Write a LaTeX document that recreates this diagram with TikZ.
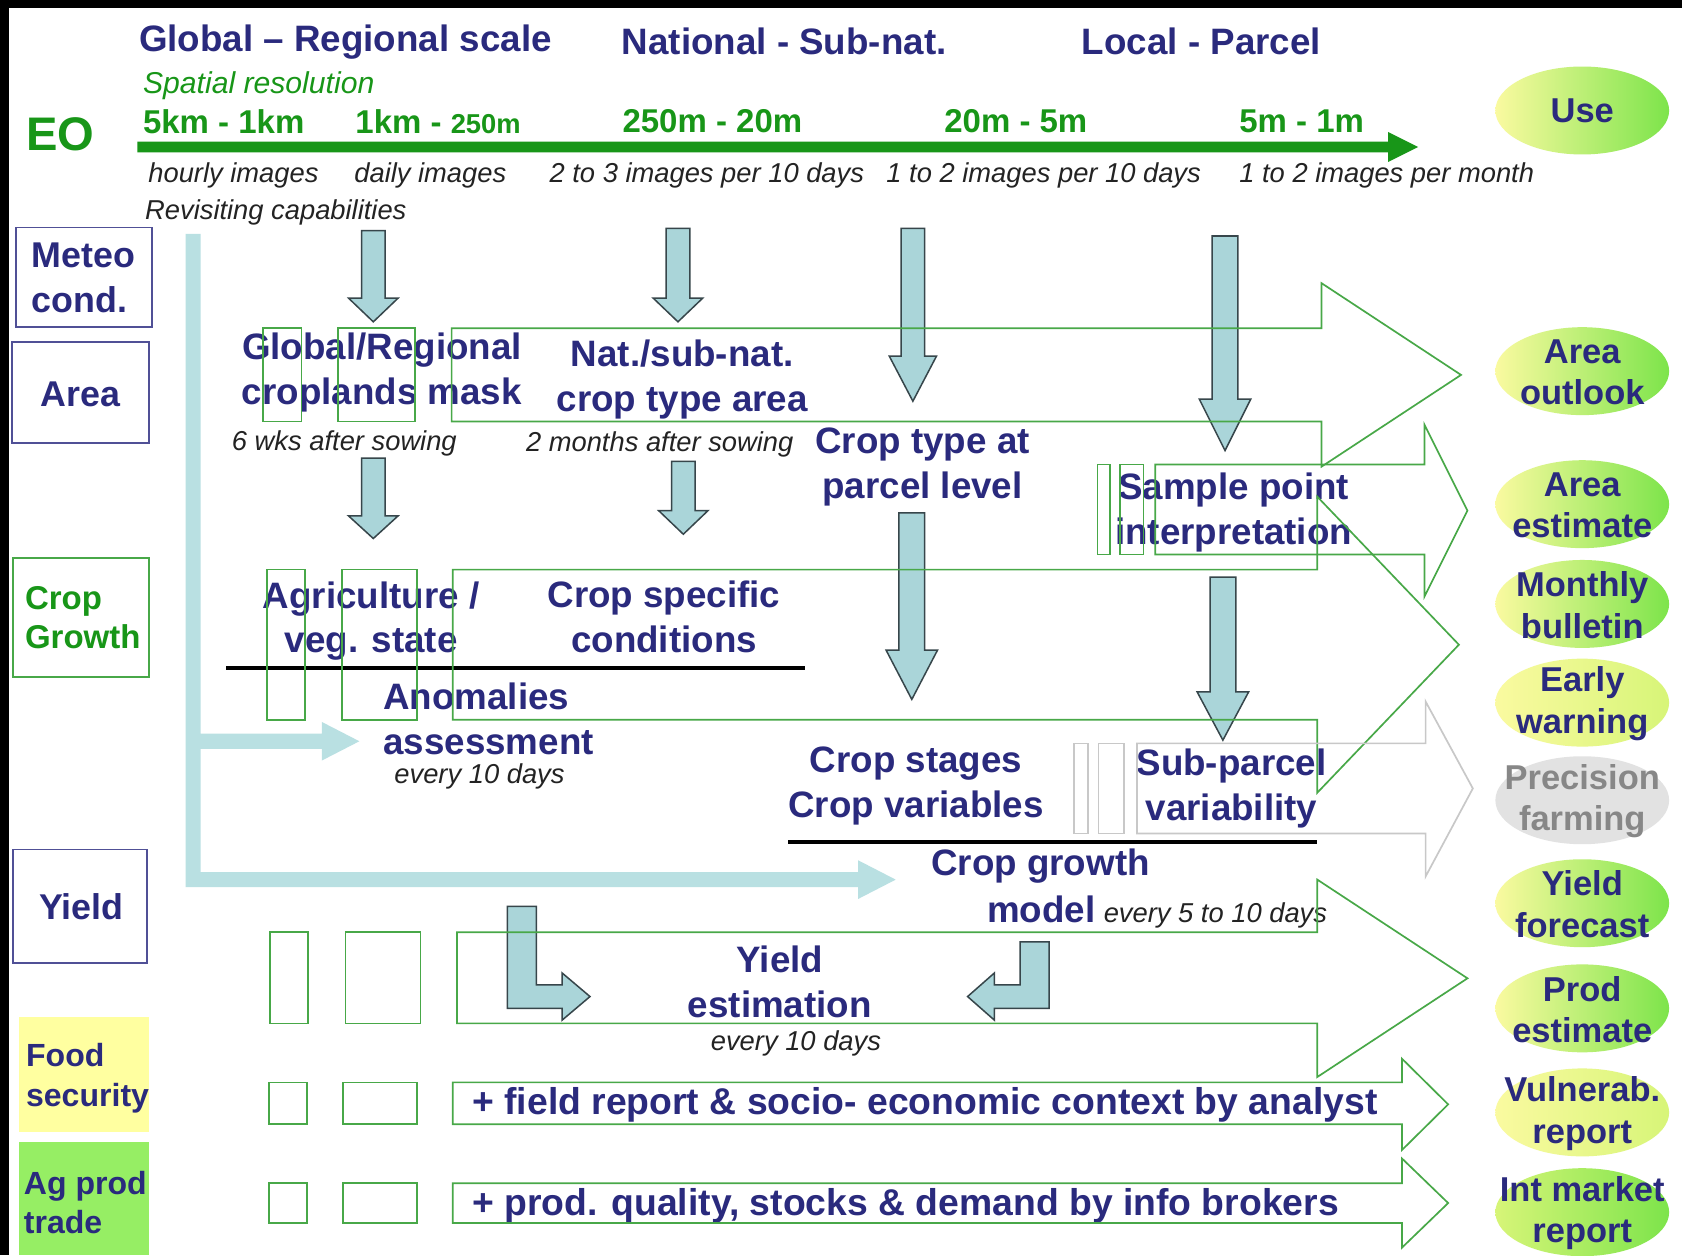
\documentclass[tikz,border=0pt]{standalone}
\usepackage{fontspec}
\setmainfont{Liberation Sans}
\usetikzlibrary{positioning}

\definecolor{navytxt}{RGB}{42,42,125}
\definecolor{eogreen}{RGB}{24,150,24}
\definecolor{boxgreen}{RGB}{72,168,72}
\definecolor{boxnavy}{RGB}{80,80,150}
\definecolor{blfill}{RGB}{170,213,217}
\definecolor{bldraw}{RGB}{55,70,75}
\definecolor{palebl}{RGB}{185,224,226}
\definecolor{foodyel}{RGB}{255,255,160}
\definecolor{agrn}{RGB}{150,238,100}
\definecolor{ellyel}{RGB}{250,250,160}
\definecolor{ellgrn}{RGB}{125,228,75}
\definecolor{ellyg}{RGB}{215,245,120}
\definecolor{greyfill}{RGB}{226,226,226}
\definecolor{greytxt}{RGB}{135,135,135}
\definecolor{greyline}{RGB}{200,200,200}
\definecolor{notetxt}{RGB}{35,35,35}

\begin{document}
\begin{tikzpicture}[x=0.02cm, y=-0.02cm,
    % text styles
    lbl/.style={font=\fontsize{19.5}{23.8}\selectfont\bfseries, text=navytxt, align=center, inner sep=0pt},
    side/.style={font=\fontsize{19}{23.5}\selectfont\bfseries, text=navytxt, align=left, inner sep=0pt},
    uselbl/.style={font=\fontsize{18.3}{22}\selectfont\bfseries, text=navytxt, align=center, inner sep=0pt},
    note/.style={font=\fontsize{14.5}{17}\selectfont\itshape, text=notetxt, inner sep=0pt},
    res/.style={font=\fontsize{17.5}{20}\selectfont\bfseries, text=eogreen, inner sep=0pt, anchor=west},
    % shapes
    downarrow/.style={fill=blfill, draw=bldraw, line width=0.8pt, line join=miter},
    greenarrow/.style={draw=boxgreen, line width=0.9pt},
    greyarrow/.style={draw=greyline, line width=0.9pt},
    navybox/.style={draw=boxnavy, line width=0.9pt},
    underline/.style={line width=2.3pt, black}
]
\useasboundingbox (0,0) rectangle (1568,1170);
\fill[white] (0,0) rectangle (1568,1170);
\fill[black] (0,0) rectangle (1568,7);
\fill[black] (0,0) rectangle (8,1170);

% 1. EO scale bar and resolutions
\node[lbl] (hglob) at (322,39) {Global – Regional scale};
\node[lbl] (hnat) at (731,39) {National - Sub-nat.};
\node[lbl] (hloc) at (1120,39) {Local - Parcel};
\node[lbl, text=eogreen, font=\fontsize{25}{30}\selectfont\bfseries] (eo) at (56,125) {EO};
\node[note, font=\fontsize{16}{19}\selectfont\itshape, text=eogreen, anchor=west] (spat) at (133,80) {Spatial resolution};
\node[res] (r1) at (133,113) {5km - 1km};
\node[res] (r2) at (331,113) {1km - {\fontsize{14.5}{17}\selectfont 250m}};
\node[res] (r3) at (580,113) {250m - 20m};
\node[res] (r4) at (880,113) {20m - 5m};
\node[res] (r5) at (1155,113) {5m - 1m};
\fill[eogreen] (128,132) -- (1294,132) -- (1294,123) -- (1322,137) -- (1294,151) -- (1294,142) -- (128,142) -- cycle;
\node[note, anchor=west] (v1) at (138,164) {hourly images};
\node[note, anchor=west] (v2) at (330,164) {daily images};
\node[note, anchor=west] (v3) at (512,164) {2 to 3 images per 10 days};
\node[note, anchor=west] (v4) at (826,164) {1 to 2 images per 10 days};
\node[note, anchor=west] (v5) at (1155,164) {1 to 2 images per month};
\node[note, anchor=west] (revis) at (135,198) {Revisiting capabilities};

% 2. Left column of themes
\draw[navybox] (15,212) rectangle (142,305);
\node[side, anchor=west] (meteo) at (29,259) {Meteo\\cond.};
\draw[navybox] (11,319) rectangle (139,413);
\node[side] (area) at (75,368) {Area};
\draw[navybox, draw=boxgreen] (12,520) rectangle (139,631);
\node[side, text=eogreen, font=\fontsize{17.5}{20.5}\selectfont\bfseries, anchor=west] (growth) at (23,576) {Crop\\Growth};
\draw[navybox] (12,792) rectangle (137,898);
\node[side] (yield) at (76,845) {Yield};
\fill[foodyel] (18,948) rectangle (139,1055);
\node[side, font=\fontsize{17}{21}\selectfont\bfseries, anchor=west] (food) at (24,1005) {Food\\security};
\fill[agrn] (18,1065) rectangle (139,1170);
\node[side, font=\fontsize{17}{21}\selectfont\bfseries, anchor=west] (agprod) at (22,1121) {Ag prod\\trade};

% 3. Pale meteo flow
\fill[palebl] (173,218) -- (187,218) -- (187,684) -- (300,684) -- (300,673) -- (335,691) -- (300,709)
    -- (300,698) -- (187,698) -- (187,813) -- (800,813) -- (800,802) -- (835,820) -- (800,838)
    -- (800,827) -- (173,827) -- cycle;

% 4. EO inputs (down arrows)
\foreach \xc/\yt/\yb/\sw/\hw/\hl in {348/215/300/11/23/22, 632/213/300/11/23/22, 851/213/374/11/22/42,
    1142/220/420/12/24/48, 348/427/502/11/23/21, 637/430/498/11/23/22, 850/478/652/12/24/46, 1140/538/690/12/24/45} {
    \draw[downarrow] (\xc-\sw,\yt) -- (\xc+\sw,\yt) -- (\xc+\sw,\yb-\hl) -- (\xc+\hw,\yb-\hl)
        -- (\xc,\yb) -- (\xc-\hw,\yb-\hl) -- (\xc-\sw,\yb-\hl) -- cycle;
}
% bent arrows into the yield estimation
\draw[downarrow] (473,845) -- (500,845) -- (500,918) -- (524,918) -- (524,907) -- (550,929)
    -- (524,951) -- (524,940) -- (473,940) -- cycle;
\draw[downarrow] (951,878) -- (978,878) -- (978,940) -- (927,940) -- (927,951) -- (902,929)
    -- (927,907) -- (927,918) -- (951,918) -- cycle;

% 5. Uses
\foreach \yy/\lc/\rc in {103/ellyel/ellgrn, 346/ellyel/ellgrn, 470/ellyel/ellgrn, 563/ellyel/ellgrn,
    655/ellyel/ellyg, 842/ellyel/ellgrn, 940/ellyel/ellgrn, 1037/ellyel/ellyg, 1130/ellyg/ellgrn} {
    \shade[left color=\lc, right color=\rc] (1475,\yy) ellipse [x radius=1.62cm, y radius=0.82cm];
}
\fill[greyfill] (1475,746) ellipse [x radius=1.62cm, y radius=0.82cm];
\node[uselbl] (use) at (1475,103) {Use};
\node[uselbl] (aout) at (1475,347) {Area\\outlook};
\node[uselbl] (aest) at (1475,471) {Area\\estimate};
\node[uselbl] (bull) at (1475,564) {Monthly\\bulletin};
\node[uselbl] (warn) at (1475,656) {Early\\warning};
\node[uselbl, text=greytxt] (prec) at (1475,747) {Precision\\farming};
\node[uselbl] (yfor) at (1475,843) {Yield\\forecast};
\node[uselbl] (pest) at (1475,941) {Prod\\estimate};
\node[uselbl] (vuln) at (1475,1038) {Vulnerab.\\report};
\node[uselbl] (imkt) at (1475,1131) {Int market\\report};

% 6. Products
\node[lbl] (glob) at (356,347) {Global/Regional\\croplands mask};
\node[lbl] (natsub) at (636,354) {Nat./sub-nat.\\crop type area};
\node[note] (wks) at (321,413) {6 wks after sowing};
\node[note] (months) at (615,414) {2 months after sowing};
\node[lbl] (parcel) at (860,435) {Crop type at\\parcel level};
\node[lbl] (sample) at (1150,478) {Sample point\\interpretation};
\node[lbl] (agri) at (346,579) {Agriculture /\\veg. state};
\node[lbl] (cspec) at (619,575) {Crop specific\\conditions};
\node[lbl, align=left, anchor=west] (anom) at (357,670) {Anomalies\\assessment};
\node[note] (ten1) at (447,724) {every 10 days};
\node[lbl] (stages) at (854,733) {Crop stages\\Crop variables};
\node[lbl] (subp) at (1148,735) {Sub-parcel\\variability};
\node[lbl] (cgm) at (970,807) {Crop growth};
\node[lbl, anchor=west] (model) at (920,848) {model};
\node[note, anchor=base west] (five) at ([xshift=4pt]model.base east) {every 5 to 10 days};
\node[lbl] (yest) at (727,915) {Yield\\estimation};
\node[note] (ten2) at (742,973) {every 10 days};
\node[lbl, font=\fontsize{19.8}{23.8}\selectfont\bfseries, anchor=west] (field) at (440,1030) {+ field report \& socio- economic context by analyst};
\node[lbl, font=\fontsize{19.8}{23.8}\selectfont\bfseries, anchor=west] (prodq) at (440,1124) {+ prod. quality, stocks \& demand by info brokers};

\draw[underline] (211,623) -- (750,623);
\draw[underline] (735,785) -- (1228,785);

% 7. Outlined block arrows towards the uses
\foreach \bl/\bu/\bd/\be/\hu/\hd/\tp/\qa/\qb/\qc/\qd in {
    421/306/393/1232/264/435/1362/245/281/315/387,
    1077/433/517/1328/396/556/1368/1023/1035/1044/1066,
    422/531/671/1228/463/739/1360/249/284/319/389,
    426/869/954/1228/820/1004/1368/252/287/322/392,
    422/1009/1048/1307/987/1072/1350/251/286/320/389,
    422/1103/1140/1307/1080/1163/1350/251/286/320/389} {
    \draw[greenarrow] (\bl,\bu) -- (\be,\bu) -- (\be,\hu) -- (\tp,{(\hu+\hd)/2}) -- (\be,\hd) -- (\be,\bd) -- (\bl,\bd) -- cycle;
    \draw[greenarrow] (\qa,\bu) rectangle (\qb,\bd);
    \draw[greenarrow] (\qc,\bu) rectangle (\qd,\bd);
}
\draw[greyarrow] (1060,693) -- (1329,693) -- (1329,654) -- (1373,735) -- (1329,817) -- (1329,777) -- (1060,777) -- cycle;
\draw[greyarrow] (1001,693) rectangle (1014,777);
\draw[greyarrow] (1024,693) rectangle (1048,777);

\end{tikzpicture}
\end{document}
